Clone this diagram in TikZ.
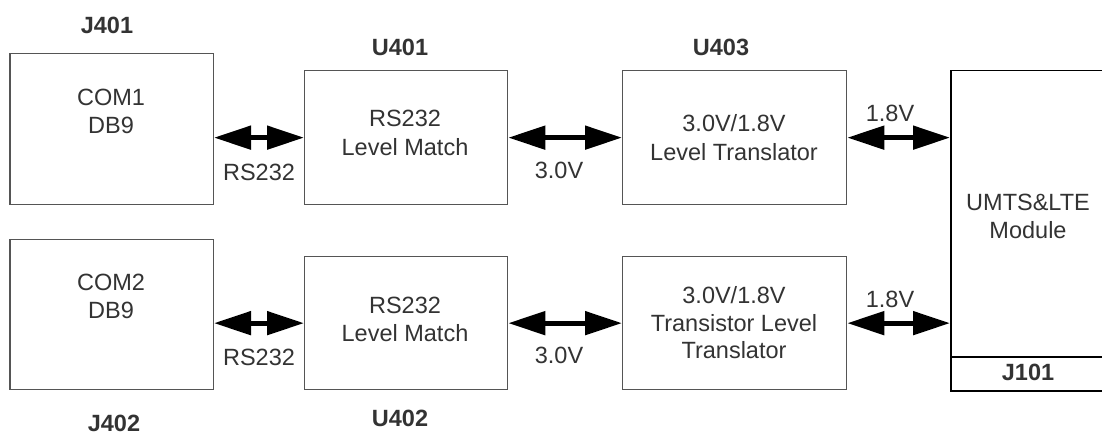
\documentclass[tikz,border=0pt]{standalone}
\usepackage{fontspec}
\setmainfont{Liberation Sans}
\usetikzlibrary{arrows.meta}
\definecolor{txt}{HTML}{333333}
\definecolor{edgecol}{HTML}{555555}
\begin{document}
\begin{tikzpicture}[x=1pt,y=-1pt,
  blk/.style={draw=edgecol, line width=1.3pt, inner sep=0pt, anchor=north west},
  mblk/.style={draw=black, line width=1.5pt, inner sep=0pt, anchor=north west},
  t/.style={font=\fontsize{23.5pt}{28pt}\selectfont, text=txt, text height=16.8pt, text depth=0pt, inner sep=0pt, anchor=center},
  tb/.style={t, font=\fontsize{23.5pt}{28pt}\selectfont\bfseries},
  dbl/.style={line width=5pt, draw=black,
    {Triangle[length=37pt,width=23pt]}-{Triangle[length=37pt,width=23pt]}}
]
\useasboundingbox[fill=white] (0,0) rectangle (1102,438);

% boxes
\node[blk, minimum width=203.4pt, minimum height=151pt] (com1) at (9.3,53) {};
\node[blk, minimum width=203pt, minimum height=134pt] (u401) at (304,70) {};
\node[blk, minimum width=224pt, minimum height=134pt] (u403) at (622,70) {};
\node[blk, minimum width=203.4pt, minimum height=150pt] (com2) at (9.3,239) {};
\node[blk, minimum width=203pt, minimum height=133pt] (u402) at (304,256) {};
\node[blk, minimum width=224pt, minimum height=133pt] (u404) at (622,256) {};
\node[mblk, minimum width=160pt, minimum height=320pt] (mod) at (950,70) {};
\coordinate (div) at (950,357);
\draw[line width=1.5pt] (div) -- (div -| mod.east);

% box texts
\node[t] (com1a) at (111,97) {COM1};
\node[t] (com1b) at (111,125) {DB9};
\node[t] (u401a) at (405,118) {RS232};
\node[t] (u401b) at (405,147) {Level Match};
\node[t] (u403a) at (734,123) {3.0V/1.8V};
\node[t] (u403b) at (734,152) {Level Translator};
\node[t] (com2a) at (111,282) {COM2};
\node[t] (com2b) at (111,310) {DB9};
\node[t] (u402a) at (405,305) {RS232};
\node[t] (u402b) at (405,333) {Level Match};
\node[t] (u404a) at (734,295) {3.0V/1.8V};
\node[t] (u404b) at (734,323) {Transistor Level};
\node[t] (u404c) at (734,350) {Translator};
\node[t] (moda) at (1028,202) {UMTS\&LTE};
\node[t] (modb) at (1028,230) {Module};

% designators
\node[tb] (lj401) at (107,25) {J401};
\node[tb] (lu401) at (400,47) {U401};
\node[tb] (lu403) at (721,47) {U403};
\node[tb] (lj402) at (114,423) {J402};
\node[tb] (lu402) at (400,418) {U402};
\node[tb] (lj101) at (1028,372) {J101};

% connectors
\draw[dbl] (com1.east |- u401.west) -- (u401.west);
\draw[dbl] (u401.east) -- (u403.west);
\draw[dbl] (u403.east) -- (u403.east -| mod.west);
\draw[dbl] (com2.east |- u402.west) -- (u402.west);
\draw[dbl] (u402.east) -- (u404.west);
\draw[dbl] (u404.east) -- (u404.east -| mod.west);

% connector labels
\node[t] (l1) at (259,172) {RS232};
\node[t] (l2) at (559,170) {3.0V};
\node[t] (l3) at (890,113) {1.8V};
\node[t] (l4) at (259,357) {RS232};
\node[t] (l5) at (559,355) {3.0V};
\node[t] (l6) at (890,299) {1.8V};
\end{tikzpicture}
\end{document}
